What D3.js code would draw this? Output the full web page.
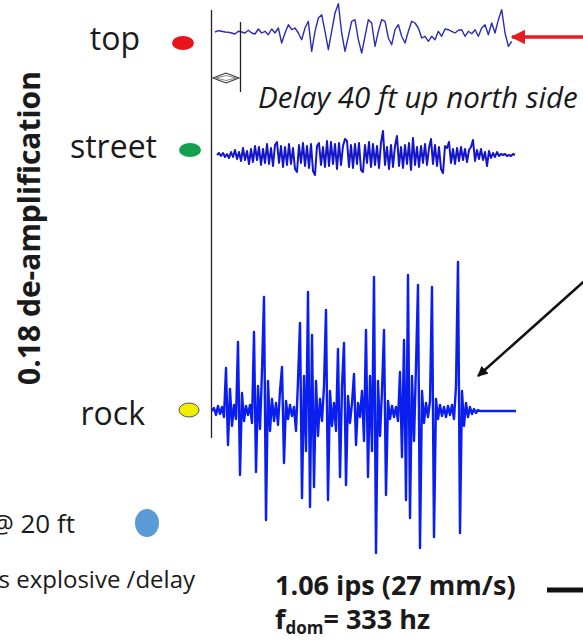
<!DOCTYPE html>
<html>
<head>
<meta charset="utf-8">
<script src="https://cdn.jsdelivr.net/npm/d3@7"></script>
<style>
body { margin: 0; background: #fff; }
svg { display: block; }
text { font-family: "Open Sans", sans-serif; fill: #1a1a1a; }
</style>
</head>
<body>
<div id="chart"></div>
<script>
// station names and their marker colours, top to bottom
const stations = ["top", "street", "rock"];
const stationColors = ["#e8141b", "#12a04e", "#f2ee00"];

// velocity traces (amplitude, positive = up)
const topTrace = [
  0, 1.3, 0.7, 0, -0.3, -1, -2, 0.7, 0, -1,
  1.7, -1, -2, 3, -1, 0.7, -2.7, 3, -1, 4,
  -11, -1, 7.3, 2.3, 4, -1, -7.7, 4, 10.7, -19.3,
  0.7, 14, 17.3, 0.7, -17.7, 0.7, 19, 28.3, -1, -19.3,
  -4.3, 10.7, 12.3, -7.7, -21, -4.3, 12.3, 9, -14.3, 0.7,
  12.3, 10.7, -6, -12.7, 2.3, 7.3, -4.3, -11, 0.7, 10.7,
  9, 4, -6, -4.3, -9.3, -4.3, -7.7, 0.7, -4.3, 3,
  2.3, 0.7, -1, 1.7, 2.3, -4.3, 0.7, -1.7, 2.3, -4.3,
  4, 7.3, -2.7, 9, -1, 12.3, 22.3, -1, -14.3, -9.3
];

const streetTrace = [
  0, 2, -1, 2, -2, 1, -3, 3, -2, 5,
  -4, 3, -6, 7, -5, 4, -9, 6, -7, 9,
  -5, 8, -10, 6, -8, 11, -9, 7, -11, 10,
  13, -8, 9, -12, 8, -10, 11, -9, 7, -14,
  -17, 10, -8, 12, -11, 9, -13, 11, -16, -20,
  9, 12, -10, 8, -12, 14, -11, 13, -9, 11,
  -14, 12, -10, 9, 16, 14, -12, 10, -13, 11,
  -9, 12, -15, -17, 10, -8, 13, -12, 11, -10,
  9, -13, 12, 24, -10, 8, -14, 10, -12, 9,
  19, -11, 8, -13, 10, -9, 12, -15, 17, -10,
  8, -12, 9, -8, 11, -10, 7, 16, -9, 10,
  -11, 8, -14, -18, 9, 7, 13, -8, 6, -9,
  7, -6, 8, -5, 6, -7, 5, 8, 15, -6,
  5, -4, 6, -5, 3, -11, 4, -3, 2, -2,
  3, -1, 1, 0, 1, -1, 0, -1, 1, 0
];

const rockTrace = [
  0, 3, -4, 5, -3, 4, -6, 43, -34, 22,
  -15, 6, -8, 69, -64, 18, -10, 5, -4, 6,
  -12, 79, -61, 25, -18, 40, 114, -109, 30, -20,
  12, -10, 8, -14, 20, 44, -52, 10, -8, 6,
  -5, 4, -20, 30, 88, -87, 35, -40, 119, -96,
  76, -76, 30, -25, 12, -10, 25, 101, -89, 20,
  -15, 8, -20, 62, -66, 25, 68, -74, 15, -12,
  8, 37, -34, 8, -6, 20, -30, 81, -66, 35,
  -40, 134, -142, 30, -25, 20, 81, -84, 10, -8,
  5, -6, 4, -10, 39, -46, 71, -89, 136, -107,
  35, -30, 45, 126, -137, 20, -12, 8, -6, 10,
  124, -126, 12, -8, 6, -5, 4, -6, 5, -4,
  6, -8, 25, 149, -122, 20, -15, 8, -6, 4,
  -3, 2, -2, 1, 0, 0, 0, 0, 0, 0,
  0, 0, 0, 0, 0, 0, 0, 0, 0, 0,
  0, 0, 0
];

const width = 583, height = 642;

const svg = d3.select("#chart").append("svg")
    .attr("width", width)
    .attr("height", height);

const defs = svg.append("defs");
function arrowMarker(id, color) {
    defs.append("marker")
        .attr("id", id)
        .attr("viewBox", "0 0 10 10")
        .attr("refX", 9).attr("refY", 5)
        .attr("markerWidth", 4.2).attr("markerHeight", 4.2)
        .attr("orient", "auto")
        .append("path")
        .attr("d", "M0,0 L10,5 L0,10 Z")
        .attr("fill", color);
}
arrowMarker("head-red", "#e51c23");
arrowMarker("head-black", "#111");

// shared amplitude scale, each trace group is shifted to its baseline
const amp = d3.scaleLinear().domain([-150, 150]).range([150, -150]);

const traces = [
    {data: topTrace, base: 32, x0: 215, x1: 511.7, color: "#2b2bb5", w: 1.4},
    {data: streetTrace, base: 155, x0: 217, x1: 515, color: "#1414c8", w: 2},
    {data: rockTrace, base: 411, x0: 212, x1: 516, color: "#0a1ef0", w: 2.4}
];

traces.forEach(t => {
    const x = d3.scaleLinear().domain([0, t.data.length - 1]).range([t.x0, t.x1]);
    const line = d3.line()
        .x((d, i) => x(i))
        .y(d => amp(d));
    svg.append("g")
        .attr("transform", "translate(0," + t.base + ")")
        .append("path")
        .datum(t.data)
        .attr("d", line)
        .attr("fill", "none")
        .attr("stroke", t.color)
        .attr("stroke-width", t.w)
        .attr("stroke-linejoin", "round");
});

// time zero line and delay marker
svg.append("line")
    .attr("x1", 211.5).attr("x2", 211.5).attr("y1", 10).attr("y2", 438)
    .attr("stroke", "#222").attr("stroke-width", 1.3);
svg.append("line")
    .attr("x1", 240.5).attr("x2", 240.5).attr("y1", 22).attr("y2", 92)
    .attr("stroke", "#222").attr("stroke-width", 1.3);
svg.append("path")
    .attr("d", "M213,78 L226,73 L239,78 L226,83 Z")
    .attr("fill", "none").attr("stroke", "#333").attr("stroke-width", 1.1);
svg.append("path")
    .attr("d", "M216,78 L226,75.5 L236,78 L226,80.5 Z")
    .attr("fill", "none").attr("stroke", "#666").attr("stroke-width", 0.8);

svg.append("text")
    .attr("x", 258).attr("y", 108)
    .attr("font-size", 29.5).attr("font-style", "italic")
    .text("Delay 40 ft up north side");

// station labels and dots
const labelPos = [
    {tx: 140, ty: 50, cx: 183, cy: 43, rx: 11, ry: 7},
    {tx: 157, ty: 158, cx: 190, cy: 150, rx: 11, ry: 7},
    {tx: 145, ty: 425, cx: 189, cy: 410, rx: 10, ry: 7}
];
stations.forEach((s, i) => {
    const p = labelPos[i];
    svg.append("text")
        .attr("x", p.tx).attr("y", p.ty)
        .attr("text-anchor", "end")
        .attr("font-size", 32)
        .text(s);
    svg.append("ellipse")
        .attr("cx", p.cx).attr("cy", p.cy).attr("rx", p.rx).attr("ry", p.ry)
        .attr("fill", stationColors[i])
        .attr("stroke", i === 2 ? "#555" : "none")
        .attr("stroke-width", 1);
});

svg.append("text")
    .attr("transform", "translate(40,228) rotate(-90)")
    .attr("text-anchor", "middle")
    .attr("font-size", 30).attr("font-weight", "bold")
    .text("0.18 de-amplification");

// arrows
svg.append("line")
    .attr("x1", 590).attr("y1", 37).attr("x2", 512).attr("y2", 37)
    .attr("stroke", "#e51c23").attr("stroke-width", 3.5)
    .attr("marker-end", "url(#head-red)");
svg.append("line")
    .attr("x1", 590).attr("y1", 276).attr("x2", 478).attr("y2", 376)
    .attr("stroke", "#111").attr("stroke-width", 2.5)
    .attr("marker-end", "url(#head-black)");

// bottom notes
svg.append("text")
    .attr("x", 75).attr("y", 533)
    .attr("text-anchor", "end")
    .attr("font-size", 26)
    .text("@ 20 ft");
svg.append("ellipse")
    .attr("cx", 147).attr("cy", 523).attr("rx", 12).attr("ry", 14)
    .attr("fill", "#5b9bd5");
svg.append("text")
    .attr("x", 195).attr("y", 588)
    .attr("text-anchor", "end")
    .attr("font-size", 24)
    .text("s explosive /delay");

svg.append("text")
    .attr("x", 275).attr("y", 595)
    .attr("font-size", 27).attr("font-weight", "bold")
    .text("1.06 ips (27 mm/s)");
const fdom = svg.append("text")
    .attr("x", 275).attr("y", 629)
    .attr("font-size", 27).attr("font-weight", "bold");
fdom.append("tspan").text("f");
fdom.append("tspan").attr("dy", 5).attr("font-size", 17).text("dom");
fdom.append("tspan").attr("dy", -5).text("= 333 hz");

svg.append("line")
    .attr("x1", 547).attr("x2", 590).attr("y1", 590).attr("y2", 590)
    .attr("stroke", "#111").attr("stroke-width", 5);
</script>
</body>
</html>
